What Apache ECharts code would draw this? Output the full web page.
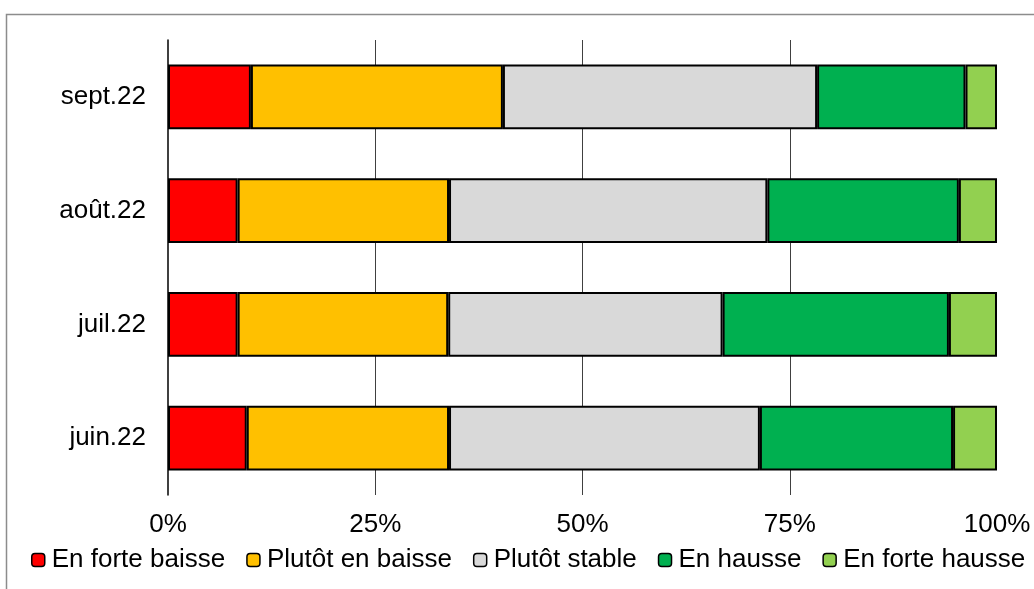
<!DOCTYPE html>
<html>
<head>
<meta charset="utf-8">
<script src="https://cdn.jsdelivr.net/npm/echarts@6/dist/echarts.min.js"></script>
<style>html,body{margin:0;padding:0;background:#fff}#c{width:1034px;height:589px}</style>
</head>
<body>
<div id="c"></div>
<script>
const categories = ['juin.22', 'juil.22', 'août.22', 'sept.22'];
const seriesNames = ['En forte baisse', 'Plutôt en baisse', 'Plutôt stable', 'En hausse', 'En forte hausse'];
const fortBaisse = [9.5, 8.4, 8.4, 10.0];
const plutotBaisse = [24.4, 25.4, 25.5, 30.4];
const plutotStable = [37.5, 33.1, 38.4, 37.9];
const hausse = [23.3, 27.3, 23.1, 17.9];
const forteHausse = [5.3, 5.8, 4.6, 3.8];
const xTicks = [0, 25, 50, 75, 100];
const colors = ['#FF0000', '#FFC000', '#D9D9D9', '#00B050', '#92D050'];
const values = [fortBaisse, plutotBaisse, plutotStable, hausse, forteHausse];

const chart = echarts.init(document.getElementById('c'));
const font = 'Liberation Sans, Arial, sans-serif';
chart.setOption({
  animation: false,
  textStyle: { fontFamily: font },
  graphic: [{
    type: 'rect', left: 4, top: 12, z: -10,
    shape: { width: 1100, height: 700 },
    style: { fill: 'none', stroke: '#8c8c8c', lineWidth: 1.5 }
  }],
  grid: { left: 168, right: 37, top: 40, bottom: 94 },
  legend: {
    data: seriesNames,
    left: 26, top: 542, width: 1200,
    itemWidth: 13, itemHeight: 13, itemGap: 21,
    textStyle: { fontSize: 26, color: '#000', fontFamily: font, padding: [0, 0, 0, 2] },
    itemStyle: { borderColor: '#000', borderWidth: 1.5 }
  },
  xAxis: {
    type: 'value', min: xTicks[0], max: xTicks[xTicks.length - 1], interval: 25,
    axisLine: { show: false }, axisTick: { show: false },
    axisLabel: { formatter: '{value}%', fontSize: 26, color: '#000', margin: 17, fontFamily: font },
    splitLine: { show: true, showMinLine: false, showMaxLine: false, lineStyle: { color: '#404040', width: 1 } }
  },
  yAxis: {
    type: 'category', data: categories,
    axisLine: { show: true, lineStyle: { color: '#000', width: 1.5 } },
    axisTick: { show: false },
    axisLabel: { fontSize: 26, color: '#000', margin: 22, fontFamily: font }
  },
  series: seriesNames.map((n, i) => ({
    name: n, type: 'bar', stack: 'total', data: values[i],
    barWidth: '57%',
    itemStyle: { color: colors[i], borderColor: '#000', borderWidth: 2 }
  }))
});
</script>
</body>
</html>
